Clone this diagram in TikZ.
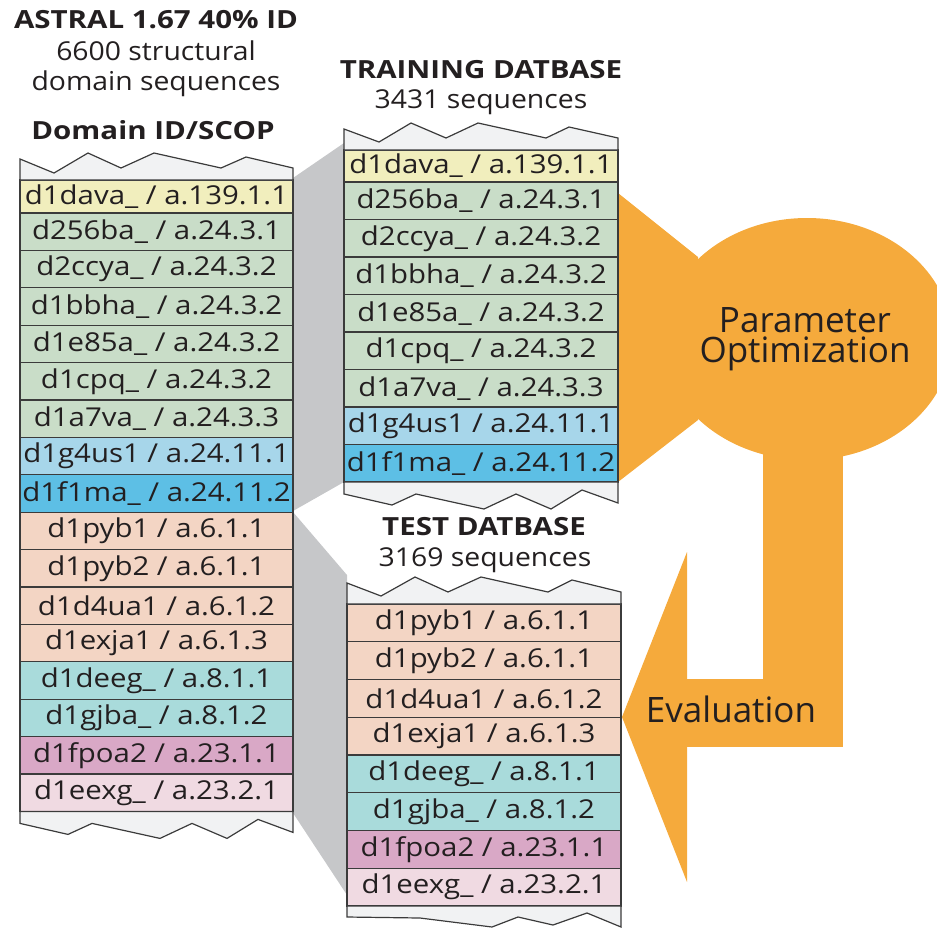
\documentclass[tikz,border=0pt]{standalone}
\usepackage{fontspec}
\setmainfont{Open Sans}
\newfontfamily\rowfont[FakeStretch=1.13]{Open Sans}
\newfontfamily\boldhead[FakeStretch=1.18]{Open Sans}
\newfontfamily\normhead[FakeStretch=1.09]{Open Sans}
\usetikzlibrary{calc}
\definecolor{linec}{HTML}{3B3B3B}
\definecolor{txt}{HTML}{231F20}
\definecolor{zigfill}{HTML}{F1F2F3}
\definecolor{grayc}{HTML}{C6C7C9}
\definecolor{orangec}{HTML}{F5AA3C}
\definecolor{yel}{HTML}{F1EEBD}
\definecolor{grn}{HTML}{C9DDC8}
\definecolor{lblue}{HTML}{A7D6EA}
\definecolor{dblue}{HTML}{5DBFE5}
\definecolor{peach}{HTML}{F3D5C4}
\definecolor{teal}{HTML}{A9DBDB}
\definecolor{purp}{HTML}{D9A8C6}
\definecolor{pinkc}{HTML}{F0DAE2}
\begin{document}
\begin{tikzpicture}[x=1pt,y=-1pt,
  rowbox/.style={draw=linec, line width=1.2pt, minimum width=273pt, minimum height=37.4pt,
    inner sep=0pt, outer sep=0pt, anchor=north west, text=txt, font=\rowfont\fontsize{26}{26}\selectfont},
  zig/.style={draw=linec, line width=1.2pt, fill=zigfill, line join=miter},
  hbold/.style={text=txt, font=\boldhead\fontsize{25}{29}\selectfont\bfseries, inner sep=0pt, align=center},
  hnorm/.style={text=txt, font=\normhead\fontsize{26}{30}\selectfont, inner sep=0pt, align=center},
  olabel/.style={text=txt, font=\fontsize{35}{30}\selectfont, inner sep=0pt, align=center},
  grayband/.style={fill=grayc, draw=none},
  orangeshape/.style={fill=orangec, draw=none}]
\useasboundingbox (0,0) rectangle (937,930);

% ---------- gray bands (drawn first, behind the columns) ----------
\fill[grayband] (293,178) -- (344,143) -- (344,482) -- (293,511) -- cycle;
\fill[grayband] (293,512) -- (347,575) -- (347,895) -- (293,813) -- cycle;

% ---------- orange shapes ----------
\fill[orangeshape] (618,193) -- (698,257) -- (698,420) -- (618,482) -- cycle;
\fill[orangeshape] (807,339) ellipse [x radius=145, y radius=121];
\fill[orangeshape] (763,430) rectangle (843,747);
\fill[orangeshape] (686,679) rectangle (843,747);
\fill[orangeshape] (622,717) -- (687,552) -- (687,882) -- cycle;

% ---------- left column ----------
\node[rowbox, fill=yel, minimum height=33pt] (L1) at (20,180) {d1dava\_ / a.139.1.1};
\node[rowbox, fill=grn] (L2) at (L1.south west) {d256ba\_ / a.24.3.1};
\node[rowbox, fill=grn] (L3) at (L2.south west) {d2ccya\_ / a.24.3.2};
\node[rowbox, fill=grn] (L4) at (L3.south west) {d1bbha\_ / a.24.3.2};
\node[rowbox, fill=grn] (L5) at (L4.south west) {d1e85a\_ / a.24.3.2};
\node[rowbox, fill=grn] (L6) at (L5.south west) {d1cpq\_ / a.24.3.2};
\node[rowbox, fill=grn] (L7) at (L6.south west) {d1a7va\_ / a.24.3.3};
\node[rowbox, fill=lblue] (L8) at (L7.south west) {d1g4us1 / a.24.11.1};
\node[rowbox, fill=dblue] (L9) at (L8.south west) {d1f1ma\_ / a.24.11.2};
\node[rowbox, fill=peach] (L10) at (L9.south west) {d1pyb1 / a.6.1.1};
\node[rowbox, fill=peach] (L11) at (L10.south west) {d1pyb2 / a.6.1.1};
\node[rowbox, fill=peach] (L12) at (L11.south west) {d1d4ua1 / a.6.1.2};
\node[rowbox, fill=peach] (L13) at (L12.south west) {d1exja1 / a.6.1.3};
\node[rowbox, fill=teal] (L14) at (L13.south west) {d1deeg\_ / a.8.1.1};
\node[rowbox, fill=teal] (L15) at (L14.south west) {d1gjba\_ / a.8.1.2};
\node[rowbox, fill=purp] (L16) at (L15.south west) {d1fpoa2 / a.23.1.1};
\node[rowbox, fill=pinkc] (L17) at (L16.south west) {d1eexg\_ / a.23.2.1};

% ---------- training column ----------
\node[rowbox, fill=yel, minimum width=274pt, minimum height=32pt] (T1) at (344,150) {d1dava\_ / a.139.1.1};
\node[rowbox, fill=grn, minimum width=274pt, minimum height=37.5pt] (T2) at (T1.south west) {d256ba\_ / a.24.3.1};
\node[rowbox, fill=grn, minimum width=274pt, minimum height=37.5pt] (T3) at (T2.south west) {d2ccya\_ / a.24.3.2};
\node[rowbox, fill=grn, minimum width=274pt, minimum height=37.5pt] (T4) at (T3.south west) {d1bbha\_ / a.24.3.2};
\node[rowbox, fill=grn, minimum width=274pt, minimum height=37.5pt] (T5) at (T4.south west) {d1e85a\_ / a.24.3.2};
\node[rowbox, fill=grn, minimum width=274pt, minimum height=37.5pt] (T6) at (T5.south west) {d1cpq\_ / a.24.3.2};
\node[rowbox, fill=grn, minimum width=274pt, minimum height=37.5pt] (T7) at (T6.south west) {d1a7va\_ / a.24.3.3};
\node[rowbox, fill=lblue, minimum width=274pt, minimum height=37.5pt] (T8) at (T7.south west) {d1g4us1 / a.24.11.1};
\node[rowbox, fill=dblue, minimum width=274pt, minimum height=37.5pt] (T9) at (T8.south west) {d1f1ma\_ / a.24.11.2};

% ---------- test column ----------
\node[rowbox, fill=peach, minimum width=274pt, minimum height=37.75pt] (E1) at (347,604) {d1pyb1 / a.6.1.1};
\node[rowbox, fill=peach, minimum width=274pt, minimum height=37.75pt] (E2) at (E1.south west) {d1pyb2 / a.6.1.1};
\node[rowbox, fill=peach, minimum width=274pt, minimum height=37.75pt] (E3) at (E2.south west) {d1d4ua1 / a.6.1.2};
\node[rowbox, fill=peach, minimum width=274pt, minimum height=37.75pt] (E4) at (E3.south west) {d1exja1 / a.6.1.3};
\node[rowbox, fill=teal, minimum width=274pt, minimum height=37.75pt] (E5) at (E4.south west) {d1deeg\_ / a.8.1.1};
\node[rowbox, fill=teal, minimum width=274pt, minimum height=37.75pt] (E6) at (E5.south west) {d1gjba\_ / a.8.1.2};
\node[rowbox, fill=purp, minimum width=274pt, minimum height=37.75pt] (E7) at (E6.south west) {d1fpoa2 / a.23.1.1};
\node[rowbox, fill=pinkc, minimum width=274pt, minimum height=37.75pt] (E8) at (E7.south west) {d1eexg\_ / a.23.2.1};

% ---------- torn (zigzag) ends ----------
\begin{scope}[shift={(L1.north west)}]
  \draw[zig] (0,0) -- (0,-21) -- (34,-7) -- (68,-27) -- (101,-12) -- (134,-27) -- (201,-12) -- (226,-23) -- (273,-12) -- (273,0) -- cycle;
\end{scope}
\begin{scope}[shift={(L17.south west)}]
  \draw[zig] (0,0) -- (0,12) -- (48,23) -- (72,12) -- (140,27) -- (172,12) -- (207,27) -- (238,8) -- (273,21) -- (273,0) -- cycle;
\end{scope}
\begin{scope}[shift={(T1.north west)}]
  \draw[zig] (0,0) -- (0,-21) -- (35,-8) -- (67,-27) -- (102,-12) -- (134,-27) -- (202,-12) -- (225,-23) -- (274,-12) -- (274,0) -- cycle;
\end{scope}
\begin{scope}[shift={(T9.south west)}]
  \draw[zig] (0,0) -- (0,12) -- (48,23) -- (72,12) -- (140,27) -- (172,12) -- (207,27) -- (238,8) -- (274,21) -- (274,0) -- cycle;
\end{scope}
\begin{scope}[shift={(E1.north west)}]
  \draw[zig] (0,0) -- (0,-21) -- (34,-8) -- (68,-27) -- (101,-12) -- (134,-27) -- (201,-12) -- (225,-24) -- (274,-12) -- (274,0) -- cycle;
\end{scope}
\begin{scope}[shift={(E8.south west)}]
  \draw[zig] (0,0) -- (0,11) -- (73,12) -- (145,21) -- (171,11) -- (206,19) -- (240,7) -- (274,21) -- (274,0) -- cycle;
\end{scope}

% ---------- headings ----------
\node[hbold] (astral) at (156,20) {ASTRAL 1.67 40\% ID};
\node[hnorm] (astralsub) at (156,69) {6600 structural\\domain sequences};
\node[hbold] (domid) at (153,130) {Domain ID/SCOP};
\node[hbold] (train) at (481,70) {TRAINING DATBASE};
\node[hnorm] (trainsub) at (481,102) {3431 sequences};
\node[hbold] (test) at (484,527) {TEST DATBASE};
\node[hnorm] (testsub) at (485,560) {3169 sequences};

% ---------- orange labels ----------
\node[olabel] (param) at (805,339) {Parameter\\Optimization};
\node[olabel] (eval) at (731,709) {Evaluation};
\end{tikzpicture}
\end{document}
